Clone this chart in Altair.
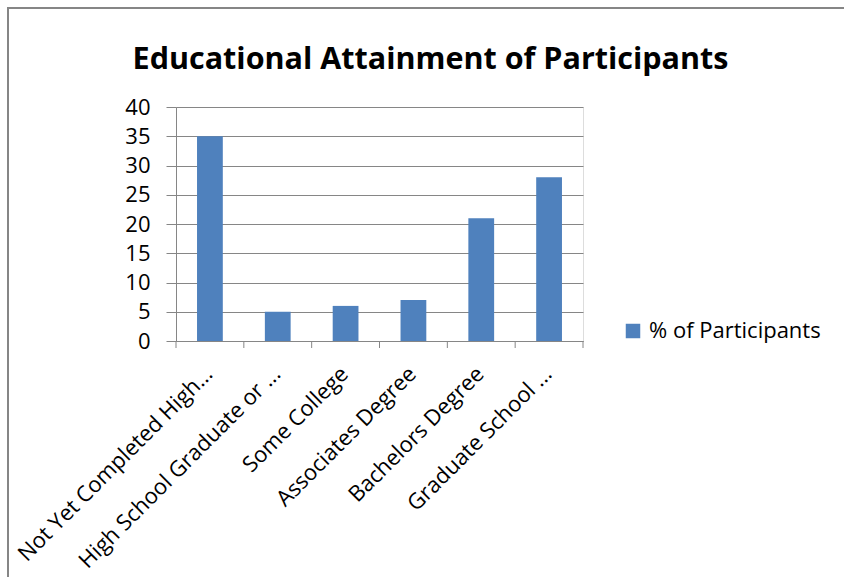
import altair as alt
import pandas as pd

# Educational attainment survey results
categories = [
    "Not Yet Completed High...",
    "High School Graduate or ...",
    "Some College",
    "Associates Degree",
    "Bachelors Degree",
    "Graduate School ...",
]
percent = [35, 5, 6, 7, 21, 28]
series_name = "% of Participants"

df = pd.DataFrame({"category": categories, "value": percent, "series": series_name})

FONT = "Open Sans"
BAR = "#4F81BD"
GRID = "#868686"
LABEL_SIZE = 22

x = alt.X(
    "category:N",
    sort=categories,
    title=None,
    scale=alt.Scale(paddingInner=0.62, paddingOuter=0.31),
    axis=alt.Axis(
        labelAngle=-45,
        labelAlign="right",
        labelBaseline="top",
        labelFont=FONT,
        labelFontSize=LABEL_SIZE,
        labelColor="#000000",
        labelLimit=400,
        labelPadding=22,
        labelOffset=-8,
        ticks=False,
        domainColor=GRID,
        grid=False,
    ),
)

bars = alt.Chart(df).mark_bar(color=BAR).encode(
    x=x,
    y=alt.Y(
        "value:Q",
        title=None,
        scale=alt.Scale(domain=[0, 40]),
        axis=alt.Axis(
            values=[0, 5, 10, 15, 20, 25, 30, 35, 40],
            labelFont=FONT,
            labelFontSize=LABEL_SIZE,
            labelColor="#000000",
            labelPadding=16,
            tickSize=10,
            tickColor=GRID,
            domainColor=GRID,
            gridColor=GRID,
            gridWidth=1,
        ),
    ),
    fill=alt.Fill(
        "series:N",
        scale=alt.Scale(range=[BAR]),
        legend=alt.Legend(
            title=None,
            orient="none",
            legendX=446,
            legendY=213,
            symbolType="square",
            symbolSize=210,
            symbolStrokeWidth=0,
            labelFont=FONT,
            labelFontSize=LABEL_SIZE,
            labelColor="#000000",
            labelOffset=5,
            labelLimit=400,
        ),
    ),
)

# Category boundary ticks below the x axis
bounds = pd.DataFrame({"b": list(range(len(categories) + 1))})
ticks = alt.Chart(bounds).mark_rule(color=GRID).encode(
    x=alt.X("b:Q", scale=alt.Scale(domain=[0, len(categories)]), axis=None),
    y=alt.value(234),
    y2=alt.value(241),
)

# Outer chart frame
frame = alt.Chart(bounds).mark_rect(
    fill=None, stroke="#868686", strokeWidth=2
).encode(
    x=alt.value(-168),
    x2=alt.value(900),
    y=alt.value(-99),
    y2=alt.value(600),
)

chart = (
    alt.layer(bars, ticks, frame)
    .resolve_scale(x="independent")
    .properties(
        width=407,
        height=234,
        padding={"left": 176, "top": 107, "right": 261, "bottom": 236},
        autosize=alt.AutoSizeParams(type="none"),
        title=alt.TitleParams(
            "Educational Attainment of Participants",
            font=FONT,
            fontSize=30.5,
            fontWeight="bold",
            color="#000000",
            anchor="middle",
            frame="group",
            dx=51,
            offset=-68,
        ),
    )
    .configure_view(stroke=None)
    .configure(background="white")
)

chart.save("out.html", embed_options={"renderer": "svg", "actions": False})
